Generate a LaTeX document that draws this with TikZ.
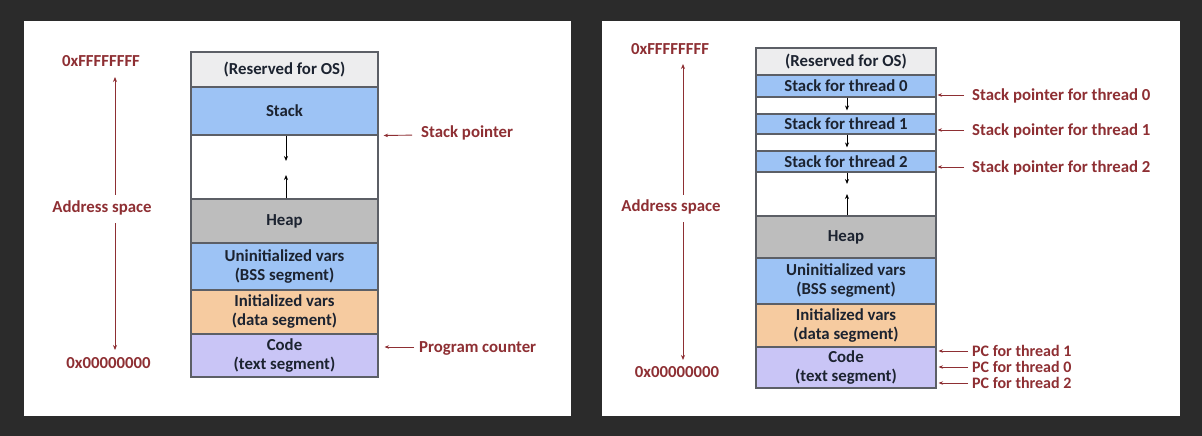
\documentclass[tikz,border=0pt]{standalone}
\usepackage{fontspec}
\setmainfont{Carlito}
\usetikzlibrary{arrows.meta}
\definecolor{frame}{HTML}{2B2B2B}
\definecolor{ink}{HTML}{1C2330}
\definecolor{maroon}{HTML}{8E2F33}
\definecolor{osgray}{HTML}{EDEDEE}
\definecolor{stackblue}{HTML}{9DC3F5}
\definecolor{heapgray}{HTML}{BDBDBD}
\definecolor{datapeach}{HTML}{F6CBA0}
\definecolor{codelav}{HTML}{C9C5F6}
\definecolor{segline}{HTML}{5C5F66}
\tikzset{
  seg/.style={draw=segline, line width=1.1pt, inner sep=0pt, align=center,
    text=ink, font=\fontsize{16.8}{19}\selectfont\bfseries},
  lbl/.style={inner sep=0pt, text=maroon, font=\fontsize{16.8}{19}\selectfont\bfseries},
  pclbl/.style={lbl, font=\fontsize{16}{17}\selectfont\bfseries},
  ptr/.style={draw=maroon, line width=0.9pt, -{Stealth[length=4.5pt,width=3.5pt]}},
  addr/.style={draw=maroon, line width=0.9pt, -{Stealth[length=5pt,width=4pt]}},
  growarrow/.style={draw=black, line width=0.9pt, -{Stealth[length=5pt,width=4pt]}},
}
\begin{document}
\begin{tikzpicture}[x=1pt,y=-1pt]
\useasboundingbox (0,0) rectangle (1202,436);
\fill[frame] (0,0) rectangle (1202,436);
\fill[white] (24,21) rectangle (571,416);
\fill[white] (602,21) rectangle (1180,416);

% ---------- single-threaded process ----------
\begin{scope}[every node/.append style={minimum width=187pt}]
\node[seg, fill=osgray,    minimum height=35pt] (osL)   at (284.5,69.5)  {(Reserved for OS)};
\node[seg, fill=stackblue, minimum height=48pt] (stkL)  at (284.5,111)   {Stack};
\node[seg, fill=white,     minimum height=64pt] (gapL)  at (284.5,167)   {};
\node[seg, fill=heapgray,  minimum height=44pt] (heapL) at (284.5,221)   {Heap};
\node[seg, fill=stackblue, minimum height=47pt] (bssL)  at (284.5,266.5) {Uninitialized vars\\(BSS segment)};
\node[seg, fill=datapeach, minimum height=44pt] (dataL) at (284.5,312)   {Initialized vars\\(data segment)};
\node[seg, fill=codelav,   minimum height=43pt] (codeL) at (284.5,355.5) {Code\\(text segment)};
\end{scope}
\coordinate (downL) at (286,161);
\coordinate (upL)   at (286,175);
\draw[growarrow] (stkL.south -| downL) -- (downL);
\draw[growarrow] (heapL.north -| upL) -- (upL);

\node[lbl] (hiL)  at (101,61)  {0xFFFFFFFF};
\node[lbl] (asL)  at (102,208) {Address space};
\node[lbl] (loL)  at (108.5,363) {0x00000000};
\coordinate (axTopL) at (115,77);
\coordinate (axBotL) at (115,350);
\draw[addr] (asL.north -| axTopL) ++(0,-6) -- (axTopL);
\draw[addr] (asL.south -| axBotL) ++(0,8) -- (axBotL);

\node[lbl, anchor=west] (spL) at (421,133) {Stack pointer};
\node[lbl, anchor=west] (pcL) at (419,348) {Program counter};
\draw[ptr, shorten <=9pt, shorten >=5pt] (spL.west) ++(0,2) -- (stkL.south east);
\draw[ptr, shorten >=6pt] ([xshift=-5pt,yshift=1pt]pcL.west) -- ([yshift=1pt]pcL.west -| codeL.east);

% ---------- multi-threaded process ----------
\begin{scope}[every node/.append style={minimum width=180pt}]
\node[seg, fill=osgray,    minimum height=27pt] (osR)   at (846,61.5)  {(Reserved for OS)};
\node[seg, fill=stackblue, minimum height=22pt] (st0)   at (846,86)    {Stack for thread 0};
\node[seg, fill=white,     minimum height=17pt] (g0)    at (846,105.5) {};
\node[seg, fill=stackblue, minimum height=20pt] (st1)   at (846,124)   {Stack for thread 1};
\node[seg, fill=white,     minimum height=17pt] (g1)    at (846,142.5) {};
\node[seg, fill=stackblue, minimum height=21pt] (st2)   at (846,161.5) {Stack for thread 2};
\node[seg, fill=white,     minimum height=44pt] (g2)    at (846,194)   {};
\node[seg, fill=heapgray,  minimum height=42pt] (heapR) at (846,237)   {Heap};
\node[seg, fill=stackblue, minimum height=46pt] (bssR)  at (846,281)   {Uninitialized vars\\(BSS segment)};
\node[seg, fill=datapeach, minimum height=43pt] (dataR) at (846,325.5) {Initialized vars\\(data segment)};
\node[seg, fill=codelav,   minimum height=41pt] (codeR) at (846,367.5) {Code\\(text segment)};
\end{scope}
\coordinate (downR) at (847,184);
\coordinate (upR)   at (847,194);
\draw[growarrow, shorten >=3pt] (st0.south -| downR) -- (st1.north -| downR);
\draw[growarrow, shorten >=3pt] (st1.south -| downR) -- (st2.north -| downR);
\draw[growarrow] (st2.south -| downR) -- (downR);
\draw[growarrow] (heapR.north -| upR) -- (upR);

\node[lbl] (hiR) at (670,49)  {0xFFFFFFFF};
\node[lbl] (asR) at (671,207) {Address space};
\node[lbl] (loR) at (677,372) {0x00000000};
\coordinate (axTopR) at (683,64);
\coordinate (axBotR) at (683,360);
\draw[addr] (asR.north -| axTopR) ++(0,-5) -- (axTopR);
\draw[addr] (asR.south -| axBotR) ++(0,8) -- (axBotR);

\node[lbl, anchor=west] (sp0) at (972,96)  {Stack pointer for thread 0};
\node[lbl, anchor=west] (sp1) at (972,131) {Stack pointer for thread 1};
\node[lbl, anchor=west] (sp2) at (972,168) {Stack pointer for thread 2};
\foreach \s in {sp0,sp1,sp2}
  \draw[ptr, shorten >=1pt] ([xshift=-8pt,yshift=1pt]\s.west) -- ([yshift=1pt]\s.west -| st0.east);

\node[pclbl, anchor=west] (pc1) at (972,351) {PC for thread 1};
\node[pclbl, anchor=west] (pc0) at (972,367) {PC for thread 0};
\node[pclbl, anchor=west] (pc2) at (972,383) {PC for thread 2};
\foreach \p in {pc1,pc0,pc2}
  \draw[ptr, shorten >=2pt] ([xshift=-4pt]\p.west) -- (\p.west -| codeR.east);
\end{tikzpicture}
\end{document}
